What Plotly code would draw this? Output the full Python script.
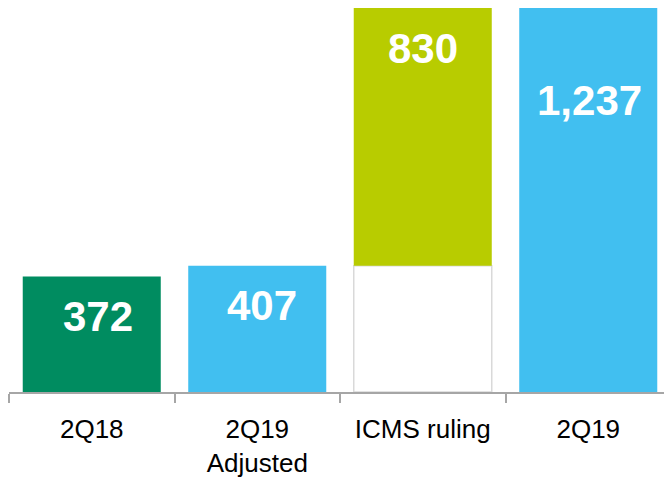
import plotly.graph_objects as go

categories = ["2Q18", "2Q19<br>Adjusted", "ICMS ruling", "2Q19"]
values = [372, 407, 830, 1237]
bases = [0, 0, 407, 0]
labels = ["372", "407", "830", "1,237"]
colors = ["#008C60", "#41BFF0", "#B8CC00", "#41BFF0"]

# label offsets (px) from each bar top
label_dy = [-40, -40, -40, -92]
label_dx = [6, 5, 0, 1]

fig = go.Figure()

# white "invisible" base under the ICMS step, outlined faintly like the shadow
fig.add_trace(go.Bar(
    x=categories,
    y=[None, None, bases[2], None],
    marker=dict(color="white", line=dict(color="#D9D9D9", width=1.5)),
    hoverinfo="skip",
))

fig.add_trace(go.Bar(
    x=categories,
    y=values,
    base=bases,
    marker=dict(color=colors, line=dict(width=0)),
))

for cat, val, base, lab, dy, dx in zip(categories, values, bases, labels, label_dy, label_dx):
    fig.add_annotation(
        x=cat, y=base + val, text=lab, showarrow=False,
        yanchor="middle", yshift=dy, xshift=dx,
        font=dict(family="Liberation Sans", size=42, color="white", weight="bold"),
    )

# page body has an 8px margin, so margins are offset to land on the same pixels
fig.update_layout(
    width=672, height=483,
    margin=dict(l=1, r=9, t=0, b=99, autoexpand=False),
    barmode="overlay",
    bargap=0.166,
    showlegend=False,
    plot_bgcolor="white",
    paper_bgcolor="white",
    font=dict(family="Liberation Sans", size=26, color="black"),
)
fig.update_xaxes(
    showline=True, linecolor="#A6A6A6", linewidth=2,
    ticks="outside", tickson="boundaries", ticklen=9, tickcolor="#A6A6A6", tickwidth=1.5,
    showgrid=False, range=[-0.5, 3.5],
    ticklabelstandoff=13,
)
fig.update_yaxes(visible=False, range=[0, 1237])

fig.write_html("out.html")
